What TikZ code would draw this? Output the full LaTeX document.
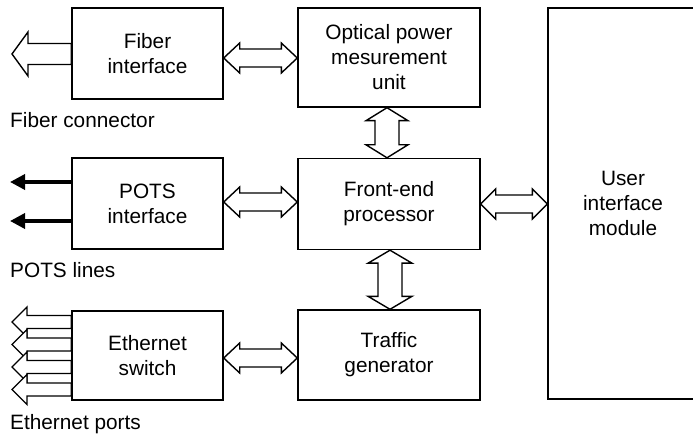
\documentclass[tikz,border=0pt]{standalone}
\usepackage{fontspec}
\setmainfont{Liberation Sans}
\usetikzlibrary{calc,arrows.meta}
\tikzset{
  box/.style={draw, line width=1.4pt, align=center, inner sep=0pt,
    font=\fontsize{20.8}{25}\selectfont},
  txt/.style={align=center, inner sep=0pt, font=\fontsize{20.8}{25}\selectfont},
  hollow/.style={draw, line width=1.4pt, fill=white, line join=miter},
  lbl/.style={anchor=base west, inner sep=0pt, font=\fontsize{20.8}{25}\selectfont},
  potsline/.style={line width=3.5pt, -{Triangle[length=15pt,width=15pt]}}
}
% horizontal double arrow: left tip, right tip, shaft half, head half, head length
\newcommand{\hdarrow}[5]{%
  \draw[hollow] let \p1=(#1), \p2=(#2) in
    (\x1,\y1) -- (\x1+#5,\y1+#4) -- (\x1+#5,\y1+#3) -- (\x2-#5,\y1+#3) --
    (\x2-#5,\y1+#4) -- (\x2,\y1) -- (\x2-#5,\y1-#4) -- (\x2-#5,\y1-#3) --
    (\x1+#5,\y1-#3) -- (\x1+#5,\y1-#4) -- cycle;}
% vertical double arrow: top tip, bottom tip, shaft half, head half, head length
\newcommand{\vdarrow}[5]{%
  \draw[hollow] let \p1=(#1), \p2=(#2) in
    (\x1,\y1) -- (\x1+#4,\y1-#5) -- (\x1+#3,\y1-#5) -- (\x1+#3,\y2+#5) --
    (\x1+#4,\y2+#5) -- (\x1,\y2) -- (\x1-#4,\y2+#5) -- (\x1-#3,\y2+#5) --
    (\x1-#3,\y1-#5) -- (\x1-#4,\y1-#5) -- cycle;}
% single hollow left arrow: start at box (#1), tip (#2), shaft half, head half, head length
\newcommand{\lharrow}[5]{%
  \draw[hollow] let \p1=(#1), \p2=(#2) in
    (\x2,\y1) -- (\x2+#5,\y1+#4) -- (\x2+#5,\y1+#3) -- (\x1,\y1+#3) --
    (\x1,\y1-#3) -- (\x2+#5,\y1-#3) -- (\x2+#5,\y1-#4) -- cycle;}
\begin{document}
\begin{tikzpicture}[x=1pt,y=-1pt]
\useasboundingbox (0,0) rectangle (693,438);
\clip (0,0) rectangle (693,438);

% boxes
\node[box, minimum width=151pt, minimum height=91pt] (fib) at (147.5,53.5) {Fiber\\interface};
\node[box, minimum width=182pt, minimum height=99pt] (opt) at (389,57.5) {Optical power\\mesurement\\unit};
\node[box, minimum width=151pt, minimum height=91pt] (pots) at (147.5,203.5) {POTS\\interface};
\node[box, minimum width=182pt, minimum height=91pt] (fe) at (389,204) {Front-end\\processor};
\node[box, minimum width=151pt, minimum height=89pt] (eth) at (147.5,355.5) {Ethernet\\switch};
\node[box, minimum width=182pt, minimum height=90pt] (tg) at (389,355) {Traffic\\generator};
\node[box, minimum width=200pt, minimum height=391pt] (ui) at (648,203.5) {};
\node[txt] (uitext) at (623,203.5) {User\\interface\\module};

% labels
\node[lbl] (lfib) at (10,128) {Fiber connector};
\node[lbl] (lpots) at (10,278) {POTS lines};
\node[lbl] (leth) at (10,429) {Ethernet ports};

% horizontal double arrows
\coordinate (a1) at (fib.east |- 0,58);  \coordinate (a2) at (opt.west |- 0,58);
\hdarrow{a1}{a2}{9pt}{15pt}{16pt}
\coordinate (b1) at (pots.east |- 0,202); \coordinate (b2) at (fe.west |- 0,202);
\hdarrow{b1}{b2}{9pt}{15pt}{16pt}
\coordinate (c1) at (fe.east |- 0,204);  \coordinate (c2) at (ui.west |- 0,204);
\hdarrow{c1}{c2}{9pt}{15pt}{15pt}
\coordinate (d1) at (eth.east |- 0,358); \coordinate (d2) at (tg.west |- 0,358);
\hdarrow{d1}{d2}{9pt}{15pt}{16pt}

% vertical double arrows
\coordinate (e1) at (387,0 |- opt.south); \coordinate (e2) at (387,0 |- fe.north);
\vdarrow{e1}{e2}{12pt}{21pt}{13pt}
\coordinate (f1) at (390,0 |- fe.south); \coordinate (f2) at (390,0 |- tg.north);
\vdarrow{f1}{f2}{12pt}{22pt}{13pt}

% fiber connector arrow
\coordinate (g1) at (fib.west |- 0,54); \coordinate (g2) at (12,54);
\lharrow{g1}{g2}{10.5pt}{22pt}{16pt}

% POTS lines
\coordinate (p1) at (10,182); \coordinate (p2) at (10,221);
\draw[potsline] (pots.west |- p1) -- (p1);
\draw[potsline] (pots.west |- p2) -- (p2);

% Ethernet ports
\coordinate (q1) at (12,322);   \lharrow{eth.west |- q1}{q1}{6.5pt}{15pt}{15pt}
\coordinate (q2) at (12,344.5); \lharrow{eth.west |- q2}{q2}{6.5pt}{15pt}{15pt}
\coordinate (q3) at (12,367);   \lharrow{eth.west |- q3}{q3}{6.5pt}{15pt}{15pt}
\coordinate (q4) at (12,389.5); \lharrow{eth.west |- q4}{q4}{6.5pt}{15pt}{15pt}
\end{tikzpicture}
\end{document}
